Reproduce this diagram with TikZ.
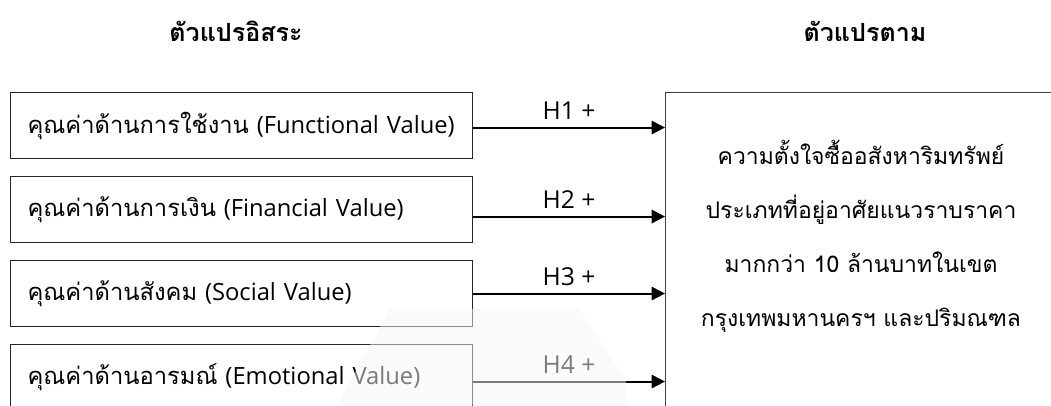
\documentclass[tikz,border=0pt]{standalone}
\usepackage{fontspec}
\setmainfont{Open Sans}
\newfontfamily\thaifont[Script=Thai]{Loma}
\usetikzlibrary{arrows.meta,calc}
\tikzset{
  lbox/.style={draw=black!85, line width=0.8pt, anchor=north west, minimum width=346.5pt, minimum height=49.5pt, text width=321pt, inner xsep=12.75pt, inner ysep=0pt, align=left, font=\fontsize{17.8}{20}\selectfont},
  rbox/.style={draw=black!75, line width=0.8pt, anchor=north west, minimum width=300pt, minimum height=250pt, inner sep=0pt},
  arr/.style={line width=1.5pt, -{Triangle[length=10pt,width=10pt]}},
  hlbl/.style={font=\fontsize{18.5}{20}\selectfont, midway, yshift=12.75pt, inner sep=0pt},
  ttl/.style={font=\thaifont\bfseries\fontsize{18.8}{22}\selectfont},
  rtext/.style={align=center, font=\thaifont\fontsize{17.2}{40.5}\selectfont},
  wmark/.style={fill=black!4, opacity=0.5, draw=none},
}
\begin{document}
\begin{tikzpicture}[x=0.75pt,y=-0.75pt]
\useasboundingbox (0,0) rectangle (1051,405);
\clip (0,0) rectangle (1051,405);
\node[ttl] (t1) at (236,31) {ตัวแปรอิสระ};
\node[ttl] (t2) at (865,31) {ตัวแปรตาม};
\node[lbox] (b1) at (10,92) {{\thaifont คุณค่าด้านการใช้งาน} (Functional Value)};
\node[lbox] (b2) at (10,176) {{\thaifont คุณค่าด้านการเงิน} (Financial Value)};
\node[lbox] (b3) at (10,260) {{\thaifont คุณค่าด้านสังคม} (Social Value)};
\node[lbox] (b4) at (10,344) {{\thaifont คุณค่าด้านอารมณ์} (Emotional Value)};
\node[rbox] (rb) at (665,92) {};
\node[rtext] (rt) at (861,236.5) {ความตั้งใจซื้ออสังหาริมทรัพย์\\ประเภทที่อยู่อาศัยแนวราบราคา\\มากกว่า 10 ล้านบาทในเขต\\กรุงเทพมหานครฯ และปริมณฑล};
\draw[arr] ([yshift=-1.5pt]b1.east) -- ([yshift=-1.5pt]b1.east -| rb.west) node[hlbl] (h1) {H1 +};
\draw[arr] ([yshift=-5.25pt]b2.east) -- ([yshift=-5.25pt]b2.east -| rb.west) node[hlbl] (h2) {H2 +};
\draw[arr] (b3.east) -- (b3.east -| rb.west) node[hlbl] (h3) {H3 +};
\draw[arr] ([yshift=-3pt]b4.east) -- ([yshift=-3pt]b4.east -| rb.west) node[hlbl] (h4) {H4 +};
\fill[wmark] (390,309) -- (580,309) -- (626,381) -- (626,405) -- (337,405) -- cycle;
\end{tikzpicture}
\end{document}
